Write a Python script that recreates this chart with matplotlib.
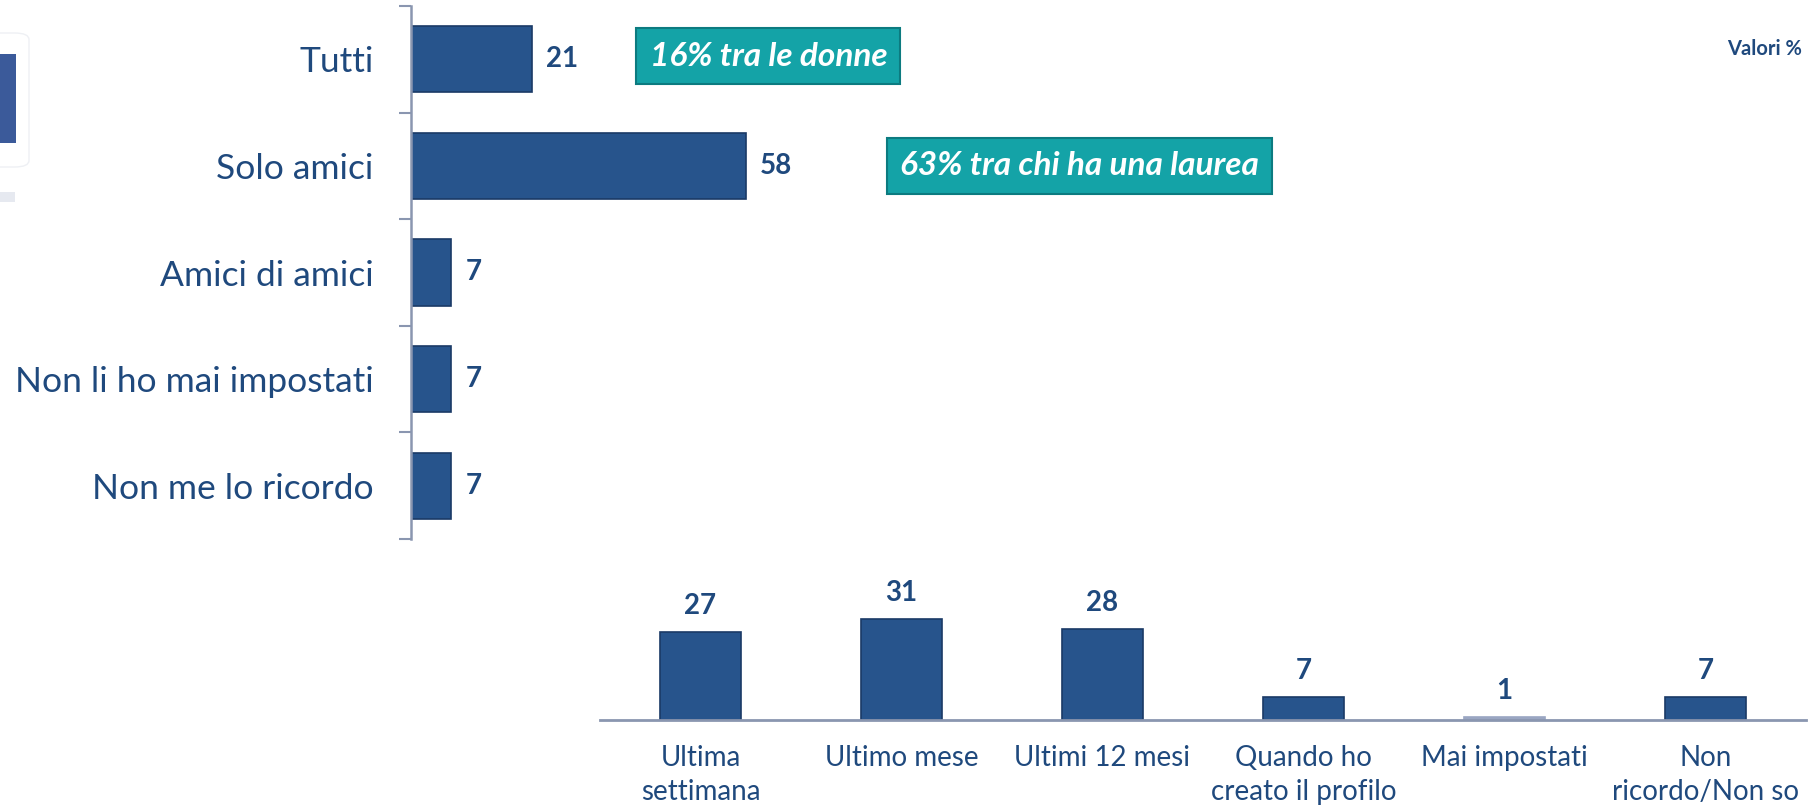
import matplotlib
matplotlib.use("Agg")
import matplotlib.pyplot as plt
from matplotlib.patches import FancyBboxPatch, Rectangle

plt.rcParams['font.family'] = ['Lato', 'DejaVu Sans']

# top chart: who can see the profile
privacy_labels = ["Tutti", "Solo amici", "Amici di amici", "Non li ho mai impostati", "Non me lo ricordo"]
privacy_values = [21, 58, 7, 7, 7]

# bottom chart: last time settings were changed
when_labels = ["Ultima\nsettimana", "Ultimo mese", "Ultimi 12 mesi", "Quando ho\ncreato il profilo",
               "Mai impostati", "Non\nricordo/Non so"]
when_values = [27, 31, 28, 7, 1, 7]

# callouts next to the bars
note_texts = ["16% tra le donne", "63% tra chi ha una laurea"]
note_y = [-0.03, 1.0]
note_x = [61.8, 115.6]

bar_color = "#27548c"
edge_color = "#1a3a66"
text_color = "#1f497d"
axis_color = "#8a96b0"

fig = plt.figure(figsize=(18.16, 8.11), dpi=100)

#Top horizontal bars
ax1 = fig.add_axes([411/1816, 1-539/811, 1-411/1816, 533/811])
ypos = list(range(len(privacy_values)))
ax1.barh(ypos, privacy_values, height=0.62, color=bar_color, edgecolor=edge_color, linewidth=1.2)
ax1.set_xlim(0, 243)
ax1.set_ylim(len(privacy_values)-0.5, -0.5)
for s in ["top", "right", "bottom"]:
    ax1.spines[s].set_visible(False)
ax1.spines["left"].set_color(axis_color)
ax1.spines["left"].set_linewidth(1.8)
ax1.set_xticks([])
ax1.set_yticks([i-0.5 for i in range(len(privacy_values)+1)])
ax1.set_yticklabels([])
ax1.tick_params(axis="y", which="major", length=9, width=1.5, color=axis_color)
ax1.set_yticks(ypos, minor=True)
ax1.set_yticklabels(privacy_labels, minor=True, fontsize=25.5, color=text_color)
ax1.tick_params(axis="y", which="minor", length=0, pad=27)
for i, v in enumerate(privacy_values):
    ax1.text(v + 2.4, i, str(v), va="center", ha="left", fontsize=20, fontweight="bold", color=text_color)

# teal callout boxes
for t, y, x in zip(note_texts, note_y, note_x):
    ax1.text(x, y, t, ha="center", va="center", fontsize=24, fontweight="bold",
             style="italic", color="white",
             bbox=dict(boxstyle="square,pad=0.4", facecolor="#14a3a7", edgecolor="#0c7b80", linewidth=1.5))

#Bottom vertical bars
ax2 = fig.add_axes([600/1816, 1-720/811, 1206/1816, 130/811])
xpos = list(range(len(when_values)))
colors = [bar_color if v > 2 else "#9aa6c2" for v in when_values]
edges = [edge_color if v > 2 else "#9aa6c2" for v in when_values]
ax2.bar(xpos, when_values, width=0.4, color=colors, edgecolor=edges, linewidth=1.2)
ax2.set_xlim(-0.5, 5.5)
ax2.set_ylim(0, 40)
for s in ["top", "right", "left"]:
    ax2.spines[s].set_visible(False)
ax2.spines["bottom"].set_color(axis_color)
ax2.spines["bottom"].set_linewidth(2)
ax2.set_yticks([])
ax2.set_xticks(xpos)
ax2.set_xticklabels(when_labels, fontsize=20, color=text_color, linespacing=1.4, va="top")
ax2.tick_params(axis="x", length=0, pad=18)
for i, v in enumerate(when_values):
    ax2.text(i, v + 4.0, str(v), ha="center", va="bottom", fontsize=20, fontweight="bold", color=text_color)

fig.text(1802/1816, 1-49/811, "Valori %", ha="right", va="center", fontsize=14.5, fontweight="bold", color=text_color)

# clipped logo picture on the left edge
fig.patches.append(FancyBboxPatch((-20/1816, 1-167/811), 49/1816, 134/811, boxstyle="round,pad=0,rounding_size=0.008",
                                  transform=fig.transFigure, facecolor="white", edgecolor="#eef0f4", linewidth=1))
fig.patches.append(Rectangle((0, 1-143/811), 16/1816, 89/811, transform=fig.transFigure,
                             facecolor="#3b5a9a", edgecolor="none"))
fig.patches.append(Rectangle((0, 1-202/811), 15/1816, 10/811, transform=fig.transFigure,
                             facecolor="#e6e9f0", edgecolor="none"))

fig.savefig("out.png", dpi=100)
